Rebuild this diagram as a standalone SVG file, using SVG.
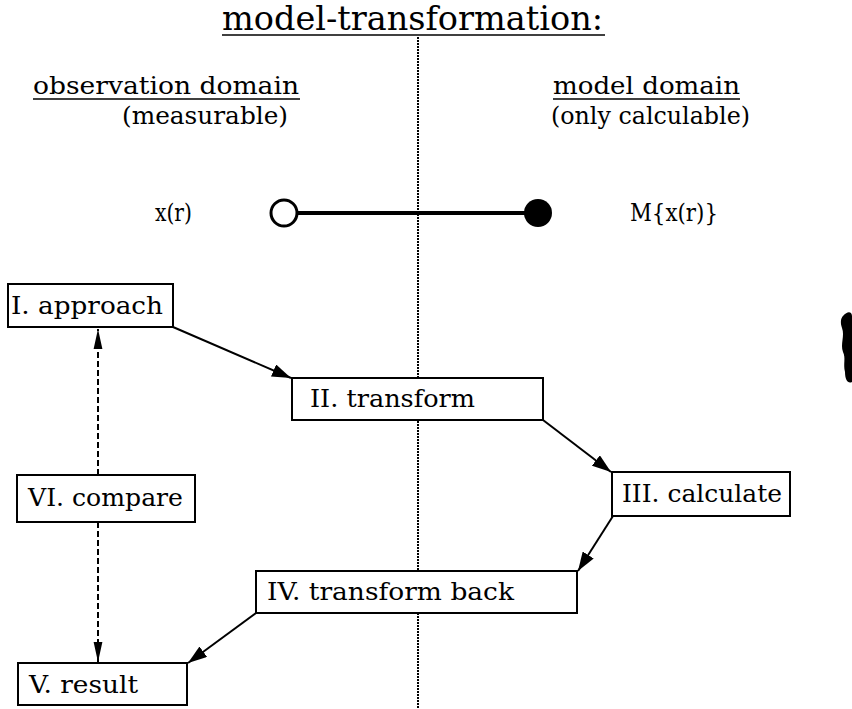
<svg xmlns="http://www.w3.org/2000/svg" width="852" height="709" viewBox="0 0 852 709">
<style>
text{font-family:"DejaVu Serif","Liberation Serif",serif;fill:#000}
.t{font-size:25px}
.h{font-size:25px}
.m{font-size:24px}
.box{fill:#fff;stroke:#000;stroke-width:2}
.c{stroke:#000;stroke-width:2;fill:none}
.d{stroke:#000;stroke-width:2;fill:none;stroke-dasharray:6,3}
.u{stroke:#000;stroke-width:1.5}
</style>
<defs>
<marker id="ah" viewBox="0 0 10 10" refX="10" refY="5" markerWidth="19" markerHeight="13" markerUnits="userSpaceOnUse" orient="auto" preserveAspectRatio="none">
<path d="M0,0 L10,5 L0,10 Z" fill="#000"/>
</marker>
<marker id="ah2" viewBox="0 0 10 10" refX="10" refY="5" markerWidth="20" markerHeight="11" markerUnits="userSpaceOnUse" orient="auto" preserveAspectRatio="none">
<path d="M0,1 L10,5 L0,9 Z" fill="#000"/>
</marker>
</defs>
<rect width="852" height="709" fill="#fff"/>
<g id="title">
<text x="222" y="30" style="font-size:33px" textLength="381" lengthAdjust="spacingAndGlyphs">model-transformation:</text>
<line x1="222" y1="35" x2="605" y2="35" class="u" stroke-width="2"/>
</g>
<line x1="418" y1="37" x2="418" y2="709" stroke="#000" stroke-width="2" stroke-dasharray="2,1"/>
<g id="obs">
<text x="33" y="94" class="h" textLength="266" lengthAdjust="spacingAndGlyphs">observation domain</text>
<line x1="33" y1="99" x2="300" y2="99" class="u"/>
<text x="122" y="124" class="h" textLength="166" lengthAdjust="spacingAndGlyphs">(measurable)</text>
</g>
<g id="model">
<text x="553" y="94" class="h" textLength="187" lengthAdjust="spacingAndGlyphs">model domain</text>
<line x1="553" y1="99" x2="740" y2="99" class="u"/>
<text x="551" y="124" class="h" textLength="199" lengthAdjust="spacingAndGlyphs">(only calculable)</text>
</g>
<g id="mapping">
<text x="155" y="221" class="m" textLength="37" lengthAdjust="spacingAndGlyphs">x(r)</text>
<line x1="298" y1="213" x2="525" y2="213" stroke="#000" stroke-width="4"/>
<circle cx="284" cy="213" r="13" fill="#fff" stroke="#000" stroke-width="3"/>
<circle cx="538" cy="213" r="14" fill="#000"/>
<text x="630" y="221" class="m" textLength="88" lengthAdjust="spacingAndGlyphs">M{x(r)}</text>
</g>
<g id="connectors">
<line x1="173" y1="327" x2="291" y2="378" class="c" marker-end="url(#ah)"/>
<line x1="543" y1="420" x2="611" y2="472" class="c" marker-end="url(#ah)"/>
<line x1="613" y1="516" x2="578" y2="571" class="c" marker-end="url(#ah)"/>
<line x1="256" y1="613" x2="188" y2="663" class="c" marker-end="url(#ah)"/>
<line x1="98" y1="475" x2="98" y2="329" class="d" marker-end="url(#ah2)"/>
<line x1="98" y1="522" x2="98" y2="662" class="d" marker-end="url(#ah2)"/>
</g>
<g id="n1"><rect x="8" y="284" width="165" height="43" class="box"/><text x="11" y="314" class="t" textLength="152" lengthAdjust="spacingAndGlyphs">I. approach</text></g>
<g id="n2"><rect x="292" y="378" width="251" height="42" class="box"/><text x="310" y="407" class="t" textLength="165" lengthAdjust="spacingAndGlyphs">II. transform</text></g>
<g id="n3"><rect x="612" y="472" width="178" height="44" class="box"/><text x="622" y="502" class="t" textLength="160" lengthAdjust="spacingAndGlyphs">III. calculate</text></g>
<g id="n4"><rect x="256" y="571" width="321" height="42" class="box"/><text x="267" y="600" class="t" textLength="247" lengthAdjust="spacingAndGlyphs">IV. transform back</text></g>
<g id="n5"><rect x="18" y="663" width="169" height="42" class="box"/><text x="29" y="693" class="t" textLength="109" lengthAdjust="spacingAndGlyphs">V. result</text></g>
<g id="n6"><rect x="17" y="475" width="178" height="47" class="box"/><text x="28" y="506" class="t" textLength="155" lengthAdjust="spacingAndGlyphs">VI. compare</text></g>
<path d="M843,316 C848,310 852,312 852,316 L852,382 C848,384 845,380 845,372 C843,364 846,358 843,352 C840,344 845,336 842,328 C840,322 841,318 843,316 Z" fill="#000"/>
</svg>
